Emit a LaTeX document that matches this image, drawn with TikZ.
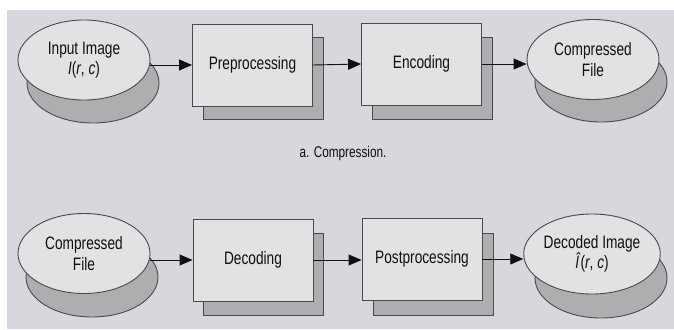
\documentclass[tikz,border=0pt]{standalone}
\usepackage{fontspec}
\setmainfont{Liberation Sans}[FakeStretch=0.76]
\usetikzlibrary{arrows.meta,shapes.geometric}
\definecolor{bg}{HTML}{D6D8DD}
\definecolor{front}{HTML}{E2E2E4}
\definecolor{shade}{HTML}{AEAEB0}
\definecolor{edge}{HTML}{4A4A4A}
\definecolor{ink}{HTML}{101010}
\begin{document}
\begin{tikzpicture}[x=1pt,y=-1pt,
  lbl/.style={font=\fontsize{18}{20.5}\selectfont, align=center, text=ink},
  ell/.style={ellipse, draw=edge, line width=0.9pt, fill=front, minimum width=132pt, minimum height=80pt, inner sep=0pt},
  ellsh/.style={ell, fill=shade},
  boxf/.style={rectangle, draw=edge, line width=0.9pt, fill=front, minimum width=120pt, minimum height=82pt, inner sep=0pt},
  boxsh/.style={boxf, fill=shade},
  arr/.style={-{Triangle[length=13pt,width=11pt]}, line width=0.9pt, draw=ink}
]
\fill[white] (0,0) rectangle (674,329);
\fill[bg] (7,10) rectangle (674,329);
\useasboundingbox (0,0) rectangle (674,329);
% top row
\node[ellsh] (insh) at (93,83) {};
\node[ell,lbl] (in) at (84,60) {Input Image\\\textit{I}(\textit{r}, \textit{c})};
\node[boxsh] (presh) at (263.5,78.5) {};
\node[boxf,lbl] (pre) at (252.5,65) {Preprocessing};
\node[boxsh] (encsh) at (432,78) {};
\node[boxf,lbl] (enc) at (421.5,64) {Encoding};
\node[ellsh] (cfsh) at (601,82) {};
\node[ell,lbl] (cf) at (593,59.5) {Compressed\\File};
\node[font=\fontsize{15.5}{18}\selectfont, text=ink] (cap) at (343,153) {a. Compression.};
% bottom row
\node[ellsh] (cf2sh) at (92,277) {};
\node[ell,lbl] (cf2) at (84,253.5) {Compressed\\File};
\node[boxsh] (decsh) at (263.5,274.5) {};
\node[boxf,lbl] (dec) at (253,260) {Decoding};
\node[boxsh] (postsh) at (433,274) {};
\node[boxf,lbl] (post) at (422,259) {Postprocessing};
\node[ellsh] (dish) at (601,278) {};
\node[ell,lbl] (di) at (592,254) {Decoded Image\\\textit{Î}(\textit{r}, \textit{c})};
% arrows
\draw[arr] (in.east |- pre.west) -- (pre.west);
\draw[arr] (pre.east) -- (enc.west);
\draw[arr] (enc.east) -- (cf.west |- enc.east);
\draw[arr] (cf2.east |- dec.west) -- (dec.west);
\draw[arr] (dec.east) -- (post.west |- dec.east);
\draw[arr] (post.east) -- (di.west |- post.east);
\end{tikzpicture}
\end{document}
